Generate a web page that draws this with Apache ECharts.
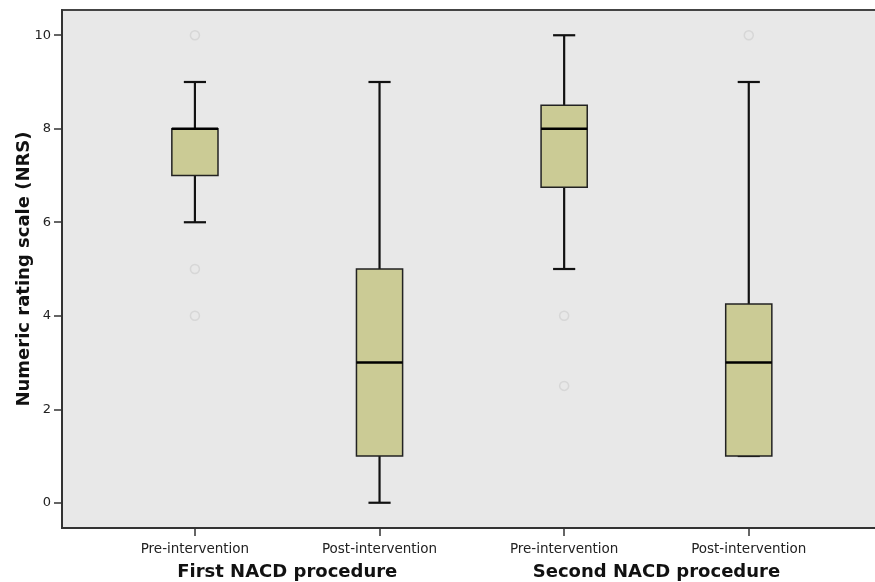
<!DOCTYPE html>
<html>
<head>
<meta charset="utf-8">
<script src="https://cdn.jsdelivr.net/npm/echarts@6/dist/echarts.min.js"></script>
<style>html,body{margin:0;padding:0;background:#fff}#c{width:875px;height:582px}</style>
</head>
<body>
<div id="c"></div>
<script>
const categories = ['Pre-intervention', 'Post-intervention', 'Pre-intervention', 'Post-intervention'];
const groupLabels = ['First NACD procedure', 'Second NACD procedure'];
const yTicks = [0, 2, 4, 6, 8, 10];
// [min, Q1, median, Q3, max]
const boxStats = [
  [6, 7, 8, 8, 9],
  [0, 1, 3, 5, 9],
  [5, 6.75, 8, 8.5, 10],
  [1, 1, 3, 4.25, 9]
];
// [category index, value]
const outliers = [
  [0, 10], [0, 5], [0, 4],
  [2, 4], [2, 2.5],
  [3, 10]
];

const catPos = categories.map((c, i) => i + 1);
const boxData = boxStats.map((s, i) => [catPos[i]].concat(s));
const outlierData = outliers.map(o => [catPos[o[0]], o[1]]);
const groupPos = [(catPos[0] + catPos[1]) / 2, (catPos[2] + catPos[3]) / 2];

const chart = echarts.init(document.getElementById('c'));
const font = 'DejaVu Sans, Verdana, sans-serif';

function renderBox(params, api) {
  const x = api.value(0);
  const vmin = api.value(1), q1 = api.value(2), med = api.value(3), q3 = api.value(4), vmax = api.value(5);
  const band = api.size([1, 0])[0];
  const bw = band * 0.25;
  const cw = band * 0.12;
  const pMin = api.coord([x, vmin]);
  const pQ1 = api.coord([x, q1]);
  const pMed = api.coord([x, med]);
  const pQ3 = api.coord([x, q3]);
  const pMax = api.coord([x, vmax]);
  const cx = pMin[0];
  const lineStyle = { stroke: '#111', lineWidth: 2.2 };
  return {
    type: 'group',
    children: [
      { type: 'line', shape: { x1: cx, y1: pMin[1], x2: cx, y2: pQ1[1] }, style: lineStyle },
      { type: 'line', shape: { x1: cx, y1: pQ3[1], x2: cx, y2: pMax[1] }, style: lineStyle },
      { type: 'line', shape: { x1: cx - cw / 2, y1: pMin[1], x2: cx + cw / 2, y2: pMin[1] }, style: lineStyle },
      { type: 'line', shape: { x1: cx - cw / 2, y1: pMax[1], x2: cx + cw / 2, y2: pMax[1] }, style: lineStyle },
      { type: 'rect', shape: { x: cx - bw / 2, y: pQ3[1], width: bw, height: pQ1[1] - pQ3[1] },
        style: { fill: '#cbcb95', stroke: '#222', lineWidth: 1.5 } },
      { type: 'line', shape: { x1: cx - bw / 2, y1: pMed[1], x2: cx + bw / 2, y2: pMed[1] },
        style: { stroke: '#000', lineWidth: 2.6 } }
    ]
  };
}

chart.setOption({
  animation: false,
  backgroundColor: '#ffffff',
  grid: {
    left: 62, top: 10, bottom: 54, right: -3,
    outerBoundsMode: 'none', containLabel: false,
    show: true, backgroundColor: '#e8e8e8', borderColor: '#444', borderWidth: 1.8
  },
  xAxis: [{
    type: 'value', min: 0.28, max: 4.7,
    splitLine: { show: false },
    axisLine: { show: true, onZero: false, lineStyle: { color: '#333', width: 2 } },
    axisTick: { show: true, customValues: catPos, length: 8, lineStyle: { color: '#333', width: 1.5 } },
    axisLabel: {
      customValues: catPos, margin: 14,
      formatter: v => categories[Math.round(v) - 1],
      fontFamily: font, fontSize: 13.5, color: '#222'
    }
  }, {
    type: 'value', min: 0.28, max: 4.7, position: 'bottom', offset: 27,
    splitLine: { show: false },
    axisLine: { show: false, onZero: false }, axisTick: { show: false },
    axisLabel: {
      customValues: groupPos,
      formatter: v => groupLabels[Math.round(v) === 2 ? 0 : 1],
      fontFamily: font, fontSize: 18, fontWeight: 'bold', color: '#111'
    }
  }],
  yAxis: {
    type: 'value', min: -0.54, max: 10.54,
    name: 'Numeric rating scale (NRS)', nameLocation: 'middle', nameGap: 29, nameMoveOverlap: false,
    nameTextStyle: { fontFamily: font, fontSize: 18, fontWeight: 'bold', color: '#111' },
    splitLine: { show: false },
    axisLine: { show: true, onZero: false, lineStyle: { color: '#333', width: 2 } },
    axisTick: { show: true, customValues: yTicks, length: 8, lineStyle: { color: '#333', width: 1.5 } },
    axisLabel: { customValues: yTicks, margin: 11, fontFamily: font, fontSize: 13, color: '#222' }
  },
  series: [{
    type: 'custom',
    renderItem: renderBox,
    encode: { x: 0, y: [1, 2, 3, 4, 5] },
    data: boxData,
    z: 2
  }, {
    type: 'scatter',
    data: outlierData,
    symbol: 'circle', symbolSize: 9,
    itemStyle: { color: 'rgba(0,0,0,0)', borderColor: '#d2d2d2', borderWidth: 1.5 },
    z: 3
  }]
});
</script>
</body>
</html>
